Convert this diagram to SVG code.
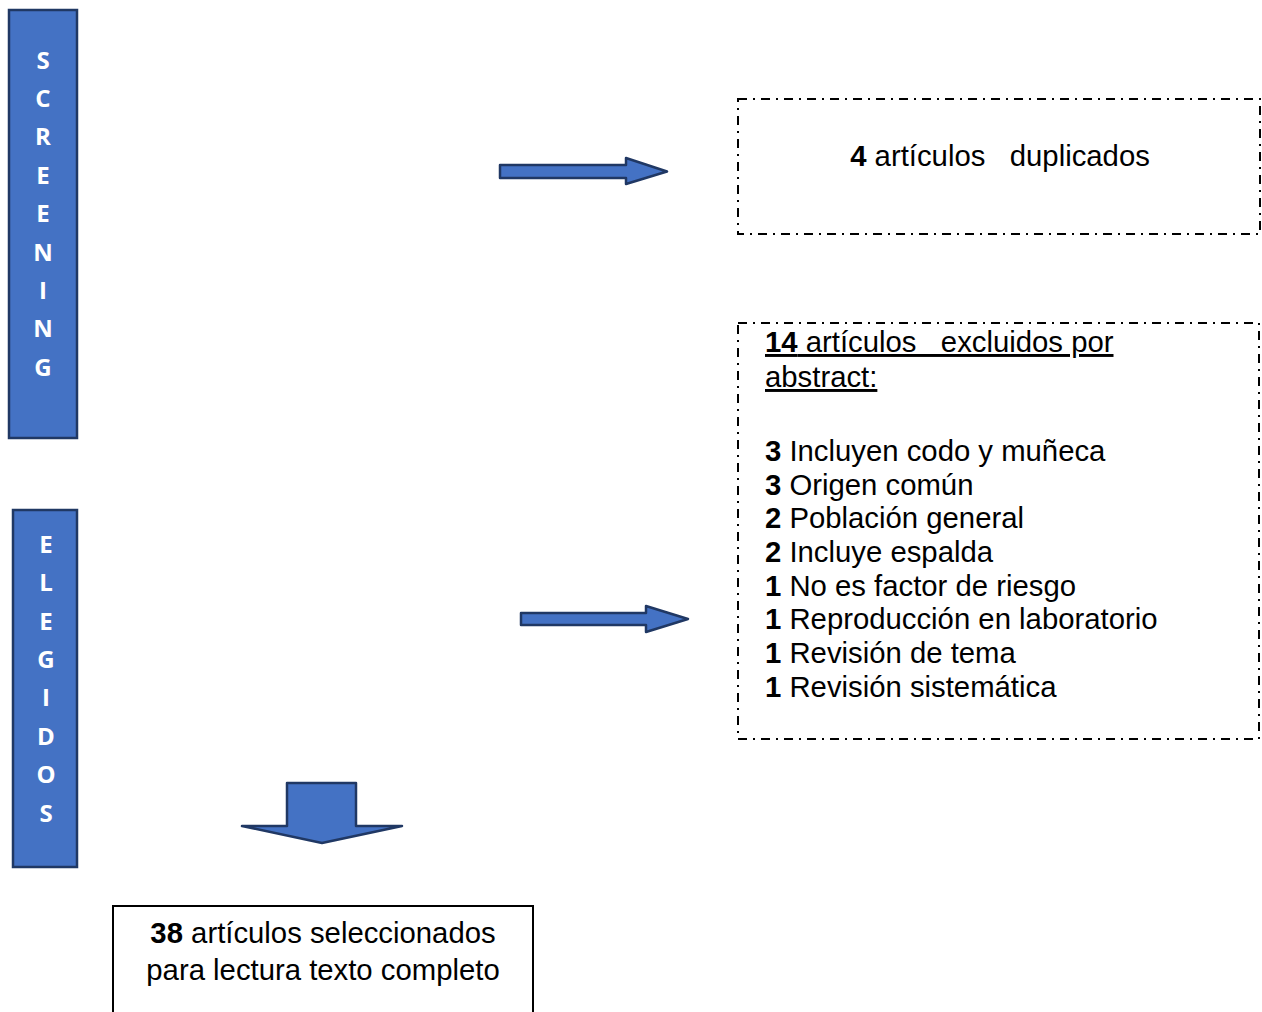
<svg xmlns="http://www.w3.org/2000/svg" width="1262" height="1012" viewBox="0 0 1262 1012">
<style>
.bar{fill:#4472C4;stroke:#203864;stroke-width:2.5}
.bl{font-family:"Open Sans","DejaVu Sans",sans-serif;font-weight:bold;font-size:24px;fill:#ffffff;text-anchor:middle}
.arr{fill:#4472C4;stroke:#203864;stroke-width:2.5;stroke-linejoin:round}
.dash{fill:none;stroke:#000;stroke-width:2;stroke-dasharray:9,6,2,6}
.solid{fill:#fff;stroke:#000;stroke-width:2}
.t{font-family:"Liberation Sans",Arial,sans-serif;font-size:29.3px;fill:#000;white-space:pre}
.b{font-weight:bold}
</style>
<rect width="1262" height="1012" fill="#fff"/>
<g id="screening">
<rect class="bar" x="9" y="10" width="68" height="428"/>
<text class="bl" x="43" y="68.5">S</text>
<text class="bl" x="43" y="106.9">C</text>
<text class="bl" x="43" y="145.3">R</text>
<text class="bl" x="43" y="183.7">E</text>
<text class="bl" x="43" y="222.1">E</text>
<text class="bl" x="43" y="260.5">N</text>
<text class="bl" x="43" y="298.9">I</text>
<text class="bl" x="43" y="337.3">N</text>
<text class="bl" x="43" y="375.7">G</text>
</g>
<g id="elegidos">
<rect class="bar" x="13" y="510" width="64" height="357"/>
<text class="bl" x="46" y="552.7">E</text>
<text class="bl" x="46" y="591.1">L</text>
<text class="bl" x="46" y="629.5">E</text>
<text class="bl" x="46" y="667.9">G</text>
<text class="bl" x="46" y="706.3">I</text>
<text class="bl" x="46" y="744.7">D</text>
<text class="bl" x="46" y="783.1">O</text>
<text class="bl" x="46" y="821.5">S</text>
</g>
<g id="duplicados">
<rect class="dash" x="738" y="99" width="522" height="135"/>
<text class="t" x="1000" y="166" text-anchor="middle" xml:space="preserve"><tspan class="b">4</tspan> artículos   duplicados</text>
</g>
<g id="excluidos">
<rect class="dash" x="738" y="323" width="521" height="416"/>
<text class="t" x="765" y="352" text-decoration="underline" xml:space="preserve"><tspan class="b">14</tspan> artículos   excluidos por</text>
<text class="t" x="765" y="387" text-decoration="underline">abstract:</text>
<text class="t" x="765" y="461"><tspan class="b">3</tspan> Incluyen codo y muñeca</text>
<text class="t" x="765" y="494.5"><tspan class="b">3</tspan> Origen común</text>
<text class="t" x="765" y="528"><tspan class="b">2</tspan> Población general</text>
<text class="t" x="765" y="562"><tspan class="b">2</tspan> Incluye espalda</text>
<text class="t" x="765" y="595.5"><tspan class="b">1</tspan> No es factor de riesgo</text>
<text class="t" x="765" y="629"><tspan class="b">1</tspan> Reproducción en laboratorio</text>
<text class="t" x="765" y="663"><tspan class="b">1</tspan> Revisión de tema</text>
<text class="t" x="765" y="697"><tspan class="b">1</tspan> Revisión sistemática</text>
</g>
<g id="seleccionados">
<rect class="solid" x="113" y="906" width="420" height="120"/>
<text class="t" x="323" y="943" text-anchor="middle"><tspan class="b">38</tspan> artículos seleccionados</text>
<text class="t" x="323" y="980" text-anchor="middle">para lectura texto completo</text>
</g>
<g id="connectors">
<polygon class="arr" points="500,165 626,165 626,158 667,171.5 626,184 626,178 500,178"/>
<polygon class="arr" points="521,613 646,613 646,606 688,619 646,632 646,625 521,625"/>
<polygon class="arr" points="287,783 356,783 356,826 402,826 322,843 242,826 287,826"/>
</g>
</svg>
